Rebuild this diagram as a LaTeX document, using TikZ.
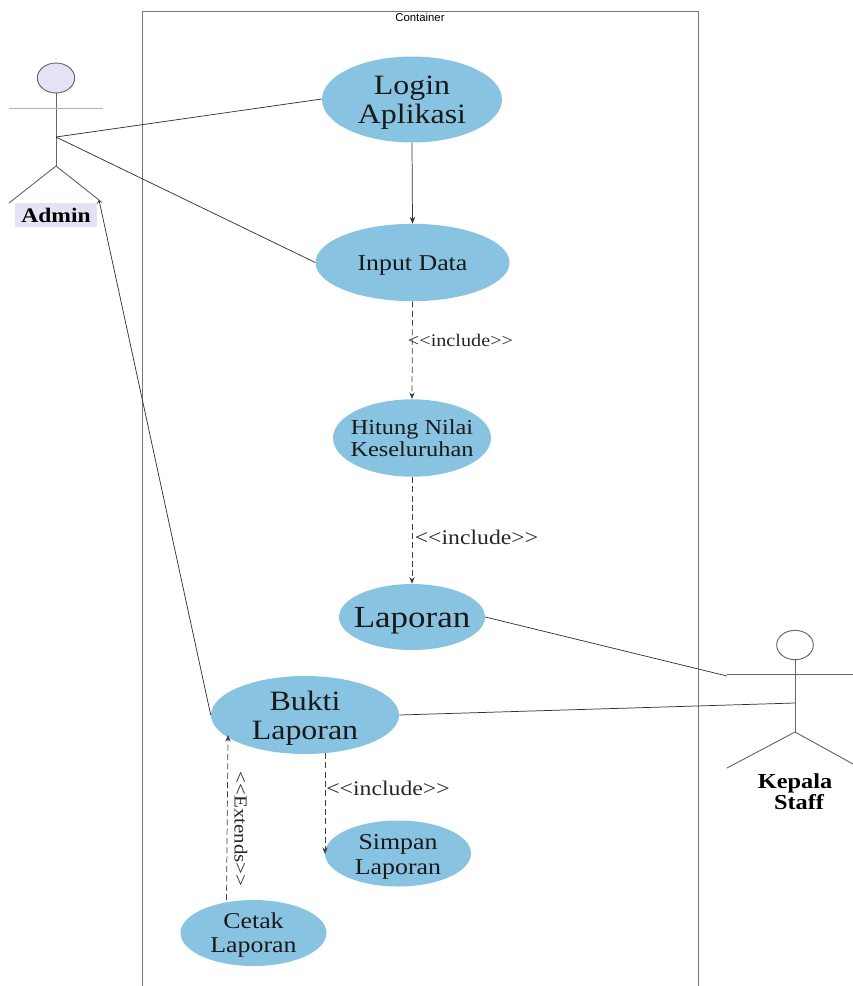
\documentclass[tikz,border=0pt]{standalone}
\usepackage{fontspec}
\setmainfont[FakeStretch=1.14]{Liberation Serif}
\newfontfamily\labelsans{Liberation Sans}
\usetikzlibrary{shapes.geometric,arrows.meta}
\definecolor{usecase}{HTML}{89C3E2}
\definecolor{actorfill}{HTML}{E3E3F5}
\definecolor{boxline}{HTML}{777777}
\definecolor{actline}{HTML}{666666}
\tikzset{
  uc/.style={ellipse,fill=usecase,inner sep=0pt},
  uctext/.style={inner sep=0pt,align=center,text=black!90},
  assoc/.style={draw=black!80,line width=0.55pt},
  dep/.style={draw=black!75,line width=0.55pt,dash pattern=on 4.5pt off 2.5pt,-{Stealth[length=5pt,width=4pt]}},
  flow/.style={draw=black!80,line width=0.55pt,-{Stealth[length=5pt,width=4pt]}},
  stereo/.style={inner sep=0pt,text=black!85},
  limb/.style={draw=actline,line width=0.7pt},
  actorlabel/.style={inner sep=0pt,align=center}
}
\begin{document}
\begin{tikzpicture}[x=0.75pt,y=-0.75pt]
\useasboundingbox (0,0) rectangle (853,986);
% container
\coordinate (ctl) at (142.5,11.5);
\coordinate (cbr) at (698.5,995);
\draw[draw=boxline,line width=0.9pt] (ctl) rectangle (cbr);
\node[inner sep=0pt,font=\labelsans\fontsize{8.5}{9}\selectfont] (ctitle) at (420,17.5) {Container};

% use cases
\node[uc,minimum width=135pt,minimum height=64.5pt] (login) at (412,99.5) {};
\node[uctext,font=\fontsize{21}{21.75}\selectfont] (logintext) at (412,103) {Login\\Aplikasi};
\node[uc,minimum width=145.5pt,minimum height=58pt] (input) at (412.5,262.5) {};
\node[uctext,font=\fontsize{17}{18}\selectfont] (inputtext) at (412.5,265.5) {Input Data};
\node[uc,minimum width=118.5pt,minimum height=58pt] (hitung) at (412,438) {};
\node[uctext,font=\fontsize{16}{16.5}\selectfont] (hitungtext) at (412,438.5) {Hitung Nilai\\Keseluruhan};
\node[uc,minimum width=109.5pt,minimum height=49.5pt] (laporan) at (412,617) {};
\node[uctext,font=\fontsize{23}{24}\selectfont] (laporantext) at (412,621) {Laporan};
\node[uc,minimum width=141pt,minimum height=58.5pt] (bukti) at (305,715) {};
\node[uctext,font=\fontsize{21}{22}\selectfont] (buktitext) at (305,718.5) {Bukti\\Laporan};
\node[uc,minimum width=109.5pt,minimum height=49.5pt] (simpan) at (398,853.5) {};
\node[uctext,font=\fontsize{17}{18.5}\selectfont] (simpantext) at (398,857) {Simpan\\Laporan};
\node[uc,minimum width=109.5pt,minimum height=49.5pt] (cetak) at (253.5,933) {};
\node[uctext,font=\fontsize{17}{18.5}\selectfont] (cetaktext) at (253.5,935) {Cetak\\Laporan};

% Admin actor
\node[ellipse,draw=actline,fill=actorfill,line width=0.7pt,minimum width=28pt,minimum height=22.5pt,inner sep=0pt] (adminhead) at (56,78) {};
\coordinate (adminhip) at (56,166);
\coordinate (adminmid) at (56,137);
\coordinate (adminarmL) at (9,108);
\coordinate (adminarmR) at (103,108);
\coordinate (adminlegL) at (9,203);
\coordinate (adminlegR) at (99,200);
\draw[limb] (adminhead.south) -- (adminhip);
\draw[draw=black!30,line width=0.7pt] (adminarmL) -- (adminarmR);
\draw[limb] (adminlegL) -- (adminhip) -- (adminlegR);
\node[fill=actorfill,minimum width=61.5pt,minimum height=18pt,actorlabel,font=\bfseries\fontsize{15.5}{16}\selectfont] (adminlabel) at (56,215) {Admin};

% Kepala Staff actor
\node[ellipse,draw=actline,fill=white,line width=0.7pt,minimum width=27.5pt,minimum height=22pt,inner sep=0pt] (staffhead) at (795,645) {};
\coordinate (staffhip) at (795,732);
\coordinate (staffmid) at (795,703);
\coordinate (staffarmL) at (727,674);
\coordinate (staffarmR) at (853,674);
\coordinate (stafflegL) at (727,768);
\coordinate (stafflegR) at (853,764);
\draw[limb] (staffhead.south) -- (staffhip);
\draw[limb] (staffarmL) -- (staffarmR);
\draw[limb] (stafflegL) -- (staffhip) -- (stafflegR);
\node[actorlabel,font=\bfseries\fontsize{16}{16}\selectfont] (stafflabel) at (795,792) {Kepala\\\hspace*{6pt}Staff};

% connectors
\draw[assoc] (adminmid) -- (login.west |- 0,99);
\draw[assoc] (adminmid) -- (input.west);
\draw[flow] (login.south) -- (input.north);
\draw[dep] (input.south) -- (hitung.north);
\draw[dep] (hitung.south) -- (laporan.north);
\draw[assoc] (laporan.east) -- (staffarmL |- 0,676);
\draw[assoc] (bukti.east) -- (staffmid);
\draw[assoc,-{To[length=2.5pt,width=4pt]}] (bukti.west) -- (adminlegR);
\coordinate (buktibot) at (325,753);
\coordinate (simpanw) at (325,854);
\draw[dep] (buktibot) -- (simpanw);
\coordinate (cetaktop) at (226.5,900);
\coordinate (buktiarr) at (228,735);
\draw[dep] (cetaktop) -- (buktiarr);

% labels
\node[stereo,font=\fontsize{13.3}{14}\selectfont] (inc1) at (460.5,340) {<{}<include>{}>};
\node[stereo,font=\fontsize{15.6}{16}\selectfont] (inc2) at (476.5,537) {<{}<include>{}>};
\node[stereo,font=\fontsize{15.6}{16}\selectfont] (inc3) at (388,788) {<{}<include>{}>};
\node[stereo,font=\fontsize{13.8}{14}\selectfont,rotate=-90] (ext) at (241,829) {<{}<Extends>{}>};
\end{tikzpicture}
\end{document}
